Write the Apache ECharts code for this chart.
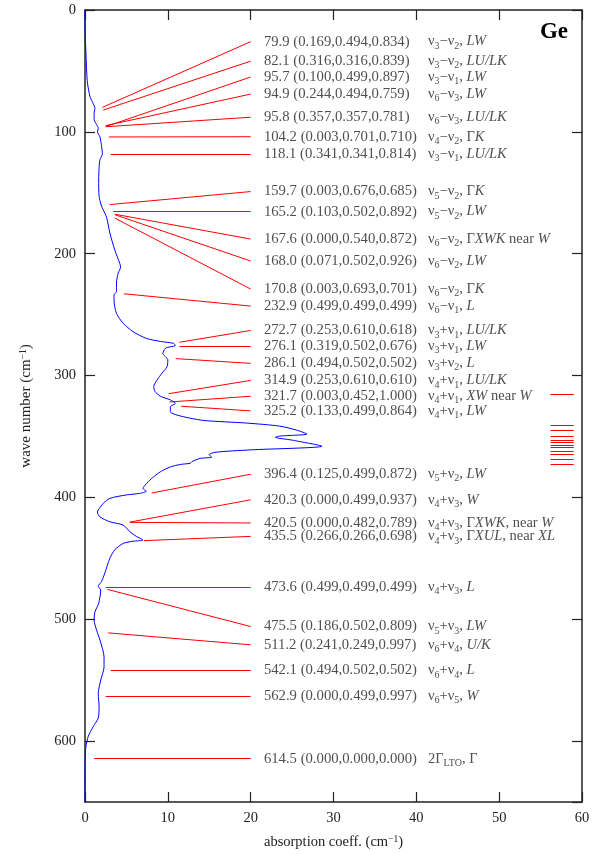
<!DOCTYPE html>
<html>
<head>
<meta charset="utf-8">
<script src="https://cdn.jsdelivr.net/npm/echarts@6/dist/echarts.min.js"></script>
<style>
  html, body { margin: 0; padding: 0; background: #fff; }
  #chart { width: 603px; height: 854px; }
</style>
</head>
<body>
<div id="chart"></div>
<script>
// absorption spectrum
const waveNumber = [0, 20, 33, 50, 60, 71, 77, 80.7, 84.8, 90, 94, 97, 100, 104, 112, 118, 123, 130, 139.5, 153,
  160, 164, 170, 183, 197, 208, 211, 216, 224, 231, 234, 238, 249, 257, 264, 269.5, 272, 273.6, 275.5, 276.4,
  277.7, 282, 284.5, 287, 292.8, 298, 303.7, 309, 313, 317, 320, 323, 325.6, 329.7, 332.4, 335, 337, 339, 341.5, 344.7,
  348, 349.7, 350.7, 353, 358, 361, 363, 365, 367, 368, 370.7, 372, 373, 375, 379, 384.4, 390, 392.6, 395, 396.7,
  398, 400.8, 405, 410.4, 412, 416, 420, 422.7, 428, 432, 435, 436, 437.8, 443, 450, 462, 469, 473, 476, 487,
  494, 500.7, 509, 517, 531, 539, 550, 561, 572, 581, 588, 596, 605, 613, 620, 650];
const absorption = [0, 0.02, 0.1, 0.2, 0.3, 0.6, 1.0, 1.2, 1.1, 1.1, 1.4, 1.6, 1.5, 1.8, 2.0, 2.1, 1.8, 1.7, 1.65, 1.7,
  1.95, 2.2, 2.6, 3.0, 3.6, 4.2, 4.3, 4.0, 3.8, 3.8, 3.5, 3.5, 3.8, 4.6, 5.8, 7.4, 9.1, 10.7, 10.9, 10.3,
  9.7, 9.4, 9.7, 10.0, 9.9, 9.3, 8.7, 8.3, 8.45, 9.1, 10.3, 10.9, 10.3, 10.3, 11.1, 12.7, 14.5, 19.5, 23.5, 25.5,
  26.8, 23.5, 23, 25, 28.6, 20, 15.7, 15, 15.3, 13.9, 12.9, 12.7, 11.5, 10.3, 9.1, 8.05, 7.25, 7.0, 7.4, 6.6,
  5.0, 3.0, 2.2, 1.6, 1.5, 1.8, 3.0, 4.6, 5.4, 6.2, 7.0, 5.8, 4.6, 3.6, 3.0, 2.4, 2.0, 1.6, 1.9, 1.65,
  1.2, 1.1, 1.4, 1.8, 2.3, 2.3, 1.9, 1.6, 1.7, 1.6, 1.0, 0.4, 0.1, 0.03, 0, 0];

// assigned two-phonon features
const peakWave = [79.9, 82.1, 95.7, 94.9, 95.8, 104.2, 118.1, 159.7, 165.2, 167.6, 168.0, 170.8, 232.9,
  272.7, 276.1, 286.1, 314.9, 321.7, 325.2, 396.4, 420.3, 420.5, 435.5, 473.6, 475.5, 511.2, 542.1, 562.9, 614.5];
const labelWave = [26, 42, 55, 69, 88, 104, 118, 149, 165.5, 188, 206, 229, 243,
  263, 276, 290, 304, 317, 329, 381, 402, 421, 432, 473.6, 506, 521, 542, 562.9, 614.5];
const lineStart = [2.1, 2.2, 2.5, 2.5, 2.5, 2.9, 3.1, 3.0, 3.4, 3.6, 3.6, 3.6, 4.7,
  11.4, 11.4, 10.95, 10.1, 10.2, 11.6, 8.05, 5.4, 5.4, 7.1, 2.5, 2.7, 2.8, 3.1, 2.5, 1.1];
const qPoints = ['(0.169,0.494,0.834)', '(0.316,0.316,0.839)', '(0.100,0.499,0.897)', '(0.244,0.494,0.759)',
  '(0.357,0.357,0.781)', '(0.003,0.701,0.710)', '(0.341,0.341,0.814)', '(0.003,0.676,0.685)',
  '(0.103,0.502,0.892)', '(0.000,0.540,0.872)', '(0.071,0.502,0.926)', '(0.003,0.693,0.701)',
  '(0.499,0.499,0.499)', '(0.253,0.610,0.618)', '(0.319,0.502,0.676)', '(0.494,0.502,0.502)',
  '(0.253,0.610,0.610)', '(0.003,0.452,1.000)', '(0.133,0.499,0.864)', '(0.125,0.499,0.872)',
  '(0.000,0.499,0.937)', '(0.000,0.482,0.789)', '(0.266,0.266,0.698)', '(0.499,0.499,0.499)',
  '(0.186,0.502,0.809)', '(0.241,0.249,0.997)', '(0.494,0.502,0.502)', '(0.000,0.499,0.997)',
  '(0.000,0.000,0.000)'];
const assignments = [
  'ν{s|3}−ν{s|2}, {i|LW}', 'ν{s|3}−ν{s|2}, {i|LU/LK}', 'ν{s|3}−ν{s|1}, {i|LW}', 'ν{s|6}−ν{s|3}, {i|LW}',
  'ν{s|6}−ν{s|3}, {i|LU/LK}', 'ν{s|4}−ν{s|2}, Γ{i|K}', 'ν{s|3}−ν{s|1}, {i|LU/LK}', 'ν{s|5}−ν{s|2}, Γ{i|K}',
  'ν{s|5}−ν{s|2}, {i|LW}', 'ν{s|6}−ν{s|2}, Γ{i|XWK} near {i|W}', 'ν{s|6}−ν{s|2}, {i|LW}', 'ν{s|6}−ν{s|2}, Γ{i|K}',
  'ν{s|6}−ν{s|1}, {i|L}', 'ν{s|3}+ν{s|1}, {i|LU/LK}', 'ν{s|3}+ν{s|1}, {i|LW}', 'ν{s|3}+ν{s|2}, {i|L}',
  'ν{s|4}+ν{s|1}, {i|LU/LK}', 'ν{s|4}+ν{s|1}, {i|XW} near {i|W}', 'ν{s|4}+ν{s|1}, {i|LW}', 'ν{s|5}+ν{s|2}, {i|LW}',
  'ν{s|4}+ν{s|3}, {i|W}', 'ν{s|4}+ν{s|3}, Γ{i|XWK}, near {i|W}', 'ν{s|4}+ν{s|3}, Γ{i|XUL}, near {i|XL}',
  'ν{s|4}+ν{s|3}, {i|L}', 'ν{s|5}+ν{s|3}, {i|LW}', 'ν{s|6}+ν{s|4}, {i|U/K}', 'ν{s|6}+ν{s|4}, {i|L}',
  'ν{s|6}+ν{s|5}, {i|W}', '2Γ{s|LTO}, Γ'];

// short marks at the right edge
const rightMarks = [315, 341, 345, 350, 353, 355, 357, 359, 362, 365, 369, 373];

const FONT = 'Liberation Serif';
const INK = '#222';

const chart = echarts.init(document.getElementById('chart'));

const richText = {
  s: { fontFamily: FONT, fontSize: 10, lineHeight: 10, verticalAlign: 'bottom', color: INK },
  i: { fontFamily: FONT, fontSize: 14.5, fontStyle: 'italic', lineHeight: 19, color: INK }
};
const supText = { sup: { fontFamily: FONT, fontSize: 9.5, lineHeight: 8, verticalAlign: 'top', color: INK } };

const axisCommon = {
  axisLine: { show: true, onZero: false, lineStyle: { color: INK, width: 1.5 } },
  axisTick: { show: true, inside: true, length: 10, lineStyle: { color: INK, width: 1.2 } },
  splitLine: { show: false }
};

const option = {
  animation: false,
  backgroundColor: '#fff',
  title: {
    text: 'Ge', right: 30, top: 16,
    textStyle: { fontFamily: FONT, fontSize: 23, fontWeight: 'bold', color: '#000' }
  },
  grid: { left: 85, right: 21, top: 10, bottom: 52, containLabel: false, outerBoundsMode: 'none' },
  xAxis: [{
    type: 'value', min: 0, max: 60, interval: 10, position: 'bottom',
    name: 'absorption coeff. (cm{sup|−1})', nameLocation: 'middle', nameGap: 32,
    nameTextStyle: { fontFamily: FONT, fontSize: 14.5, color: INK, lineHeight: 17, rich: supText },
    axisLabel: { fontFamily: FONT, fontSize: 14.5, color: INK, margin: 9 },
    ...axisCommon
  }, {
    type: 'value', min: 0, max: 60, interval: 10, position: 'top',
    axisLabel: { show: false }, ...axisCommon
  }],
  yAxis: [{
    type: 'value', min: 0, max: 650, interval: 100, inverse: true, position: 'left',
    name: 'wave number (cm{sup|−1})', nameLocation: 'middle', nameGap: 50,
    nameTextStyle: { fontFamily: FONT, fontSize: 15, color: INK, lineHeight: 17, rich: supText },
    axisLabel: { fontFamily: FONT, fontSize: 14.5, color: INK, margin: 9, showMaxLabel: false },
    ...axisCommon
  }, {
    type: 'value', min: 0, max: 650, interval: 100, inverse: true, position: 'right',
    axisLabel: { show: false }, ...axisCommon
  }],
  series: [
    {
      type: 'line', xAxisIndex: 0, yAxisIndex: 0,
      data: waveNumber.map((w, i) => [absorption[i], w]),
      showSymbol: false, smooth: 0.25, z: 3,
      lineStyle: { color: '#0000ff', width: 1 }
    },
    {
      type: 'lines', coordinateSystem: 'cartesian2d', xAxisIndex: 0, yAxisIndex: 0,
      data: peakWave.map((w, i) => ({ coords: [[lineStart[i], w], [20, labelWave[i]]] })),
      lineStyle: { color: '#ff0000', width: 1, opacity: 1 }, z: 2
    },
    {
      type: 'lines', coordinateSystem: 'cartesian2d', xAxisIndex: 0, yAxisIndex: 0,
      data: rightMarks.map(w => ({ coords: [[56.2, w], [59, w]] })),
      lineStyle: { color: '#ff0000', width: 1, opacity: 1 }, z: 2
    },
    {
      type: 'scatter', xAxisIndex: 0, yAxisIndex: 0, symbolSize: 0,
      data: labelWave.map(w => [21.6, w]),
      label: {
        show: true, position: 'right', distance: 0,
        fontFamily: FONT, fontSize: 14.7, color: INK,
        formatter: p => peakWave[p.dataIndex].toFixed(1) + ' ' + qPoints[p.dataIndex]
      }
    },
    {
      type: 'scatter', xAxisIndex: 0, yAxisIndex: 0, symbolSize: 0,
      data: labelWave.map(w => [41.4, w]),
      label: {
        show: true, position: 'right', distance: 0,
        fontFamily: FONT, fontSize: 14.5, color: INK, lineHeight: 19,
        rich: richText,
        formatter: p => assignments[p.dataIndex]
      }
    }
  ]
};

chart.setOption(option);
</script>
</body>
</html>
